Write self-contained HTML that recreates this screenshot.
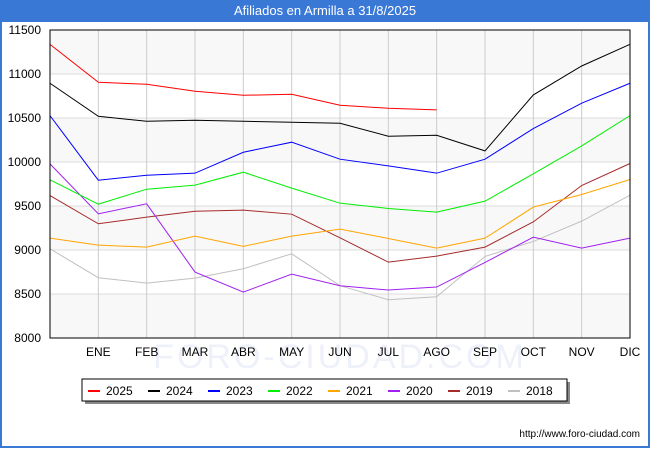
<!DOCTYPE html>
<html><head><meta charset="utf-8"><style>
body{margin:0;width:650px;height:450px;overflow:hidden;font-family:"Liberation Sans","DejaVu Sans",sans-serif;}
#frame{position:absolute;left:0;top:0;width:646px;height:446px;border:2px solid #3a78d6;border-top:none;background:#fff;}
#title{position:absolute;left:0;top:0;width:650px;height:22px;background:#3a78d6;color:#fff;font-size:13px;text-align:center;line-height:22px;}
</style></head><body>
<div id="frame"></div>
<div id="title">Afiliados en Armilla a 31/8/2025</div>
<svg id="chart" width="650" height="450" style="position:absolute;left:0;top:0"></svg>
<script>
const months=["","ENE","FEB","MAR","ABR","MAY","JUN","JUL","AGO","SEP","OCT","NOV","DIC"];
const yTicks=[8000,8500,9000,9500,10000,10500,11000,11500];
const seriesNames=["2025","2024","2023","2022","2021","2020","2019","2018"];
const seriesColors=["#ff0000","#000000","#0000ff","#00ee00","#ffa500","#a020f0","#a52a2a","#c0c0c0"];
const s2025=[11337,10906,10883,10804,10758,10770,10645,10611,10592];
const s2024=[10895,10520,10463,10475,10463,10452,10440,10293,10304,10126,10762,11091,11337];
const s2023=[10527,9793,9850,9873,10111,10225,10032,9956,9873,10032,10380,10668,10895];
const s2022=[9797,9521,9691,9737,9884,9703,9532,9472,9430,9555,9866,10183,10527];
const s2021=[9135,9056,9033,9158,9041,9158,9237,9131,9022,9135,9487,9631,9801];
const s2020=[9979,9411,9525,8749,8522,8726,8594,8545,8579,8859,9146,9022,9135];
const s2019=[9619,9298,9373,9441,9453,9407,9139,8862,8931,9033,9320,9733,9983];
const s2018=[9014,8685,8624,8681,8787,8957,8594,8435,8469,8927,9097,9328,9623];
const allSeries=[s2025,s2024,s2023,s2022,s2021,s2020,s2019,s2018];

const NS="http://www.w3.org/2000/svg";
const svg=document.getElementById('chart');
const L=50,R=630,T=30,B=338,YMIN=8000,YMAX=11500;
const x=i=>L+i*(R-L)/12;
const y=v=>B-(v-YMIN)/(YMAX-YMIN)*(B-T);
function mk(tag,attrs,parent){const e=document.createElementNS(NS,tag);for(const k in attrs)e.setAttribute(k,attrs[k]);(parent||svg).appendChild(e);return e;}

// bands
for(let i=0;i<yTicks.length-1;i++){
  const b=mk('rect',{x:L,y:y(yTicks[i+1]),width:R-L,height:y(yTicks[i])-y(yTicks[i+1]),fill:(i%2===0)?'#f8f8f8':'#ffffff'});
  
  
}
// watermark
const wm=mk('text',{x:340,y:368,'text-anchor':'middle','font-size':34,fill:'#eef0fa','letter-spacing':'3'});
wm.textContent='FORO-CIUDAD.COM';


// grid
yTicks.forEach(t=>{
  const g=mk('line',{x1:L,x2:R,y1:y(t),y2:y(t),stroke:'#dddddd','stroke-width':1});
  
  
  const lb=mk('text',{x:L-9,y:y(t)+4,'text-anchor':'end','font-size':12,fill:'#000'});
  lb.textContent=t;
  
  
});
months.forEach((m,i)=>{
  if(i===0)return;
  const g=mk('line',{x1:x(i),x2:x(i),y1:T,y2:B,stroke:'#cccccc','stroke-width':1});
  
  
  const lb=mk('text',{x:x(i),y:356,'text-anchor':'middle','font-size':12,fill:'#000'});
  lb.textContent=m;
  
  
});
// series (draw oldest first)
for(let s=allSeries.length-1;s>=0;s--){
  const pts=allSeries[s].map((v,i)=>x(i)+','+y(v)).join(' ');
  const pl=mk('polyline',{points:pts,fill:'none',stroke:seriesColors[s],'stroke-width':1});
  
  
}
const ax=mk('rect',{x:L,y:T,width:R-L,height:B-T,fill:'none',stroke:'#000','stroke-width':1});


// legend
const lg=mk('g',{});


mk('rect',{x:85,y:382,width:485,height:22,fill:'#888'},lg);
mk('rect',{x:82,y:379,width:485,height:22,fill:'#fff',stroke:'#000','stroke-width':1},lg);
seriesNames.forEach((n,i)=>{
  const ex=88+i*60;
  const ln=mk('line',{x1:ex,x2:ex+12,y1:391,y2:391,stroke:seriesColors[i],'stroke-width':2},lg);
  
  
  const t=mk('text',{x:ex+18,y:395,'font-size':12,fill:'#000'},lg);
  t.textContent=n;
  
  
});
const ft=mk('text',{x:640,y:437,'text-anchor':'end','font-size':10,fill:'#000'});
ft.textContent='http://www.foro-ciudad.com';


</script>
</body></html>
